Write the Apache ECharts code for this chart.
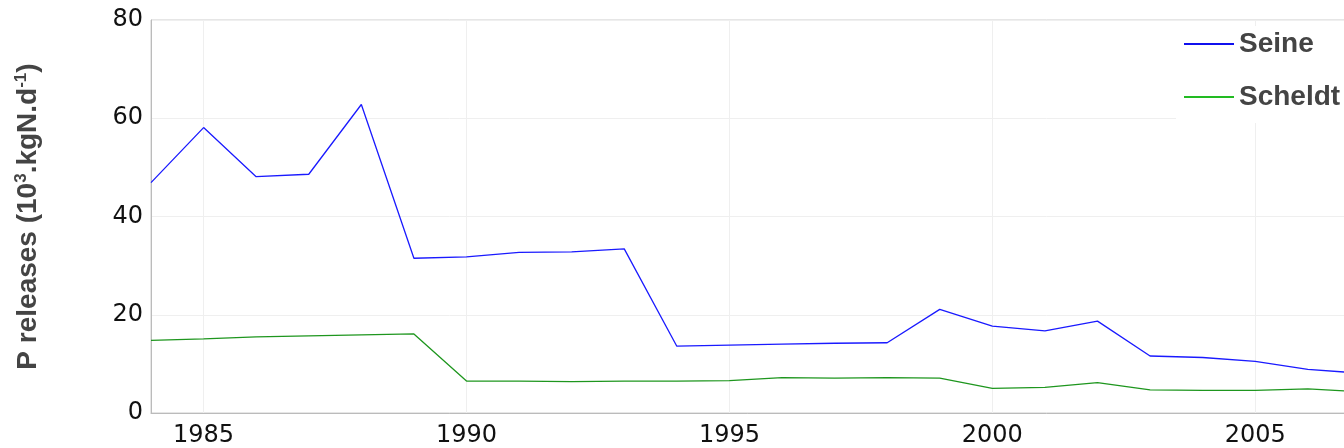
<!DOCTYPE html>
<html>
<head>
<meta charset="utf-8">
<script src="https://cdn.jsdelivr.net/npm/echarts@6/dist/echarts.min.js"></script>
<style>
  html, body { margin: 0; padding: 0; background: #fff; }
  #chart { width: 1344px; height: 448px; }
</style>
</head>
<body>
<div id="chart"></div>
<script>
const years = [1984, 1985, 1986, 1987, 1988, 1989, 1990, 1991, 1992, 1993, 1994, 1995,
               1996, 1997, 1998, 1999, 2000, 2001, 2002, 2003, 2004, 2005, 2006, 2007]
const seine = [46.9, 58.1, 48.1, 48.6, 62.8, 31.5, 31.8, 32.7, 32.8, 33.4, 13.6, 13.8,
               14.0, 14.2, 14.3, 21.1, 17.7, 16.7, 18.7, 11.6, 11.3, 10.5, 8.9, 8.1]
const scheldt = [14.8, 15.1, 15.5, 15.7, 15.9, 16.1, 6.5, 6.5, 6.4, 6.5, 6.5, 6.6,
                 7.2, 7.1, 7.2, 7.1, 5.0, 5.2, 6.2, 4.7, 4.6, 4.6, 4.9, 4.3]
const xTicks = [1985, 1990, 1995, 2000, 2005]
const yTicks = [0, 20, 40, 60, 80]

const chart = echarts.init(document.getElementById('chart'))

const pair = (vals) => years.map((y, i) => [y, vals[i]])

const nameStyle = { fontFamily: 'Liberation Sans', fontWeight: 'bold', color: '#444444' }

chart.setOption({
  animation: false,
  textStyle: { fontFamily: 'DejaVu Sans' },
  grid: {
    left: 151,
    top: 20,
    bottom: 35,
    right: -69,
    outerBoundsMode: 'none',
    containLabel: false,
    show: true,
    borderColor: '#cccccc',
    borderWidth: 1
  },
  legend: {
    left: 1176,
    top: 26,
    orient: 'vertical',
    padding: [4, 5, 12, 8],
    backgroundColor: '#ffffff',
    itemWidth: 50,
    itemHeight: 2,
    itemGap: 25,
    icon: 'rect',
    textStyle: Object.assign({ fontSize: 28 }, nameStyle),
    data: ['Seine', 'Scheldt']
  },
  xAxis: {
    type: 'value',
    min: 1984,
    max: 2008,
    axisLabel: {
      fontSize: 24,
      color: '#111111',
      margin: 11,
      customValues: xTicks,
      formatter: (v) => String(v)
    },
    axisLine: { lineStyle: { color: '#bbbbbb' } },
    axisTick: { show: false, customValues: xTicks },
    splitLine: { show: true, customValues: xTicks, lineStyle: { color: '#efefef' } }
  },
  yAxis: {
    type: 'value',
    min: yTicks[0],
    max: yTicks[yTicks.length - 1],
    interval: 20,
    name: '{t|P releases (10}{s|3}{t|.kgN.d}{s|-1}{t|)}',
    nameLocation: 'middle',
    nameGap: 108,
    nameTextStyle: {
      rich: {
        t: Object.assign({ fontSize: 28, lineHeight: 30 }, nameStyle),
        s: Object.assign({ fontSize: 17, lineHeight: 30, verticalAlign: 'top' }, nameStyle)
      }
    },
    axisLabel: { fontSize: 24, color: '#111111', margin: 8 },
    axisLine: { show: true, lineStyle: { color: '#bbbbbb' } },
    axisTick: { show: false },
    splitLine: { show: true, lineStyle: { color: '#efefef' } }
  },
  series: [
    {
      name: 'Seine',
      type: 'line',
      data: pair(seine),
      showSymbol: false,
      lineStyle: { width: 1.3, color: '#1a1aff' },
      itemStyle: { color: '#1010ee' }
    },
    {
      name: 'Scheldt',
      type: 'line',
      data: pair(scheldt),
      showSymbol: false,
      lineStyle: { width: 1.3, color: '#1e961e' },
      itemStyle: { color: '#22bb22' }
    }
  ]
})
</script>
</body>
</html>
